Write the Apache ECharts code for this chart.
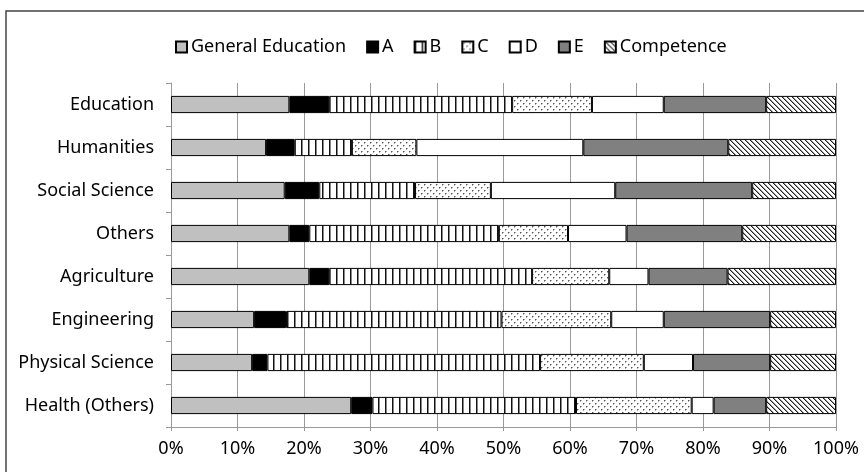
<!DOCTYPE html>
<html>
<head>
<meta charset="utf-8">
<script src="https://cdn.jsdelivr.net/npm/echarts@6/dist/echarts.min.js"></script>
<style>
  html, body { margin: 0; padding: 0; background: #fff; }
  #chart { width: 864px; height: 472px; }
</style>
</head>
<body>
<div id="chart"></div>
<script>
// Field categories, top to bottom
const categories = ['Education', 'Humanities', 'Social Science', 'Others', 'Agriculture', 'Engineering', 'Physical Science', 'Health (Others)'];

// Share of each component (%), one value per category
const generalEducation = [17.8, 14.3, 17.1, 17.8, 20.8, 12.5, 12.2, 27.1];
const compA = [6.0, 4.3, 5.2, 3.0, 3.0, 4.8, 2.3, 3.2];
const compB = [27.5, 8.6, 14.4, 28.5, 30.5, 32.4, 41.0, 30.6];
const compC = [12.0, 9.7, 11.4, 10.4, 11.6, 16.5, 15.6, 17.4];
const compD = [10.8, 25.1, 18.7, 8.8, 5.9, 7.9, 7.4, 3.3];
const compE = [15.4, 21.8, 20.6, 17.4, 11.9, 16.0, 11.6, 7.9];
const competence = [10.5, 16.2, 12.6, 14.1, 16.3, 9.9, 9.9, 10.5];

const seriesNames = ['General Education', 'A', 'B', 'C', 'D', 'E', 'Competence'];
const seriesValues = [generalEducation, compA, compB, compC, compD, compE, competence];

const tickValues = [0, 10, 20, 30, 40, 50, 60, 70, 80, 90, 100];

// Small tiled fills for the hatched segments
function makeTile(w, h, draw) {
  const c = document.createElement('canvas');
  c.width = w; c.height = h;
  const ctx = c.getContext('2d');
  ctx.fillStyle = '#fff';
  ctx.fillRect(0, 0, w, h);
  draw(ctx);
  return { image: c, repeat: 'repeat' };
}

const verticalStripes = makeTile(7, 7, ctx => {
  ctx.fillStyle = '#111';
  ctx.fillRect(0, 0, 1, 7);
  ctx.fillStyle = '#888';
  ctx.fillRect(1, 0, 1, 7);
});

const dots = makeTile(6, 6, ctx => {
  ctx.fillStyle = '#555';
  ctx.fillRect(1, 1, 1, 1);
  ctx.fillRect(4, 4, 1, 1);
  ctx.fillStyle = '#aaa';
  ctx.fillRect(2, 1, 1, 1);
  ctx.fillRect(5, 4, 1, 1);
  ctx.fillRect(1, 2, 1, 1);
  ctx.fillRect(4, 5, 1, 1);
});

const diagonal = makeTile(5, 5, ctx => {
  for (let i = 0; i < 5; i++) {
    ctx.fillStyle = '#222';
    ctx.fillRect(i, i, 1, 1);
    ctx.fillStyle = '#999';
    ctx.fillRect((i + 1) % 5, i, 1, 1);
  }
});

const fills = ['#c0c0c0', '#000000', verticalStripes, dots, '#ffffff', '#808080', diagonal];

const FONT = 'Noto Sans';
const FONT_SIZE = 18;

const chart = echarts.init(document.getElementById('chart'), null, { renderer: 'canvas' });

chart.setOption({
  animation: false,
  backgroundColor: '#fff',
  textStyle: { fontFamily: FONT },
  graphic: [{
    type: 'rect',
    shape: { x: 6, y: 11, width: 880, height: 480 },
    style: { fill: 'none', stroke: '#444', lineWidth: 1.5 },
    silent: true
  }],
  legend: {
    top: 33,
    left: 170,
    itemWidth: 11,
    itemHeight: 11,
    itemGap: 20,
    icon: 'rect',
    textStyle: { fontFamily: FONT, fontSize: FONT_SIZE, color: '#000', padding: [0, 0, 0, -1] },
    data: seriesNames
  },
  grid: { left: 171, right: 28, top: 83, bottom: 45 },
  xAxis: {
    type: 'value',
    min: 0,
    max: 100,
    interval: 10,
    axisLine: { show: true, lineStyle: { color: '#999', width: 1 } },
    axisTick: { show: true, length: 4, lineStyle: { color: '#999' } },
    splitLine: { show: true, lineStyle: { color: '#999', width: 1 } },
    axisLabel: {
      formatter: v => tickValues.includes(v) ? v + '%' : '',
      fontFamily: FONT, fontSize: FONT_SIZE, color: '#000', margin: 13
    }
  },
  yAxis: {
    type: 'category',
    inverse: true,
    data: categories,
    axisLine: { show: true, lineStyle: { color: '#999', width: 1 } },
    axisTick: { show: true, length: 5, lineStyle: { color: '#999' } },
    axisLabel: { fontFamily: FONT, fontSize: FONT_SIZE, color: '#000', margin: 17 }
  },
  series: seriesNames.map((name, i) => ({
    name,
    type: 'bar',
    stack: 'share',
    barCategoryGap: '60%',
    data: seriesValues[i],
    itemStyle: { color: fills[i], borderColor: '#000', borderWidth: 1 },
    emphasis: { disabled: true }
  }))
});
</script>
</body>
</html>
